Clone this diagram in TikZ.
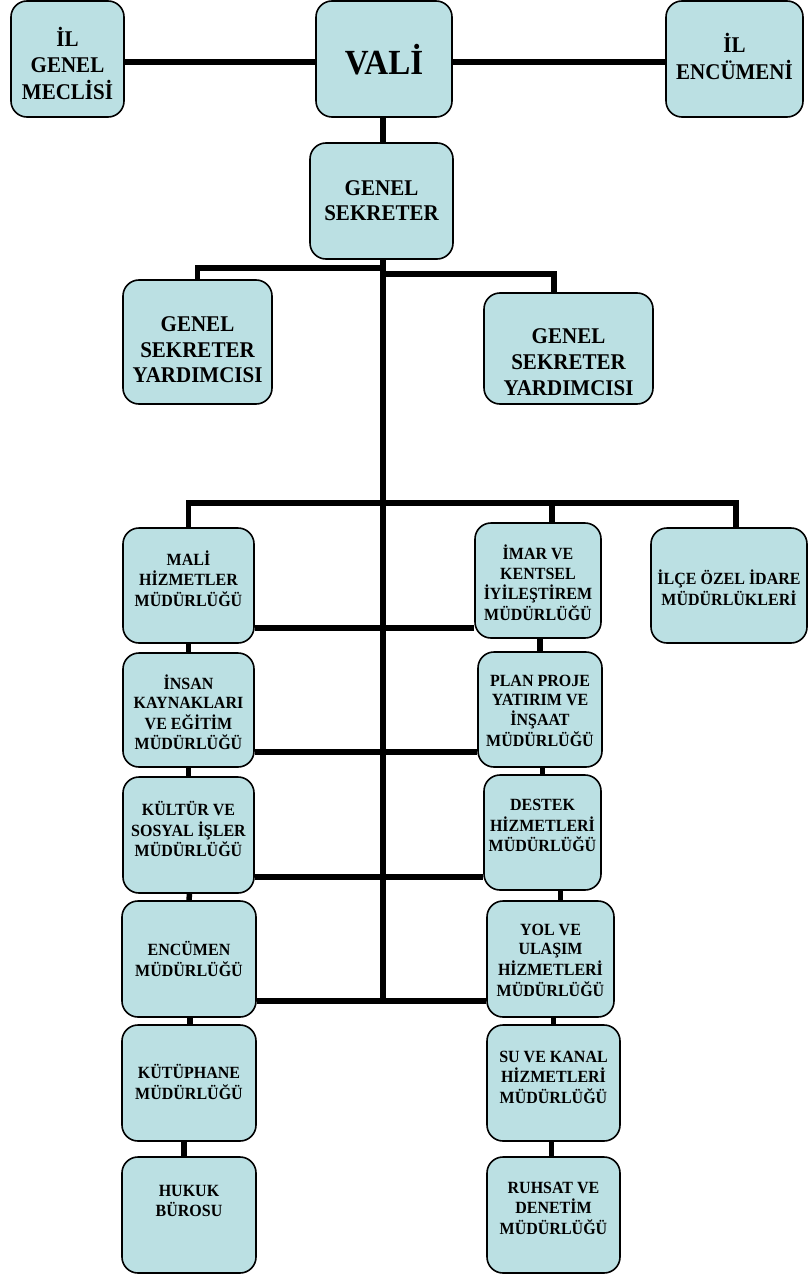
\documentclass[tikz,border=0pt]{standalone}
\usepackage{fontspec}
\usepackage{graphicx}
\setmainfont{Liberation Serif}
\usetikzlibrary{backgrounds}
\definecolor{boxfill}{RGB}{187,224,227}
\newcommand\rs[2]{\raisebox{#1}[\height][\depth]{\scalebox{1}[1.07]{\begin{tabular}{@{}c@{}}#2\end{tabular}}}}
\tikzset{
  box/.style={draw=black, line width=1.6pt, fill=boxfill, rounded corners=16pt,
    inner sep=0pt, font=\bfseries\fontsize{16}{18}\selectfont},
  bigbox/.style={box, font=\bfseries\fontsize{21}{24}\selectfont},
  link/.style={draw=black, line width=5.5pt},
}
\begin{document}
\begin{tikzpicture}[x=1pt,y=-1pt]
\useasboundingbox (0,0) rectangle (809,1276);
% top row
\node[bigbox, minimum width=113pt, minimum height=116pt] (ilg) at (67.5,59) {\rs{-8pt}{İL\\GENEL\\MECLİSİ}};
\node[bigbox, minimum width=136pt, minimum height=116pt, font=\bfseries\fontsize{33}{36}\selectfont] (vali) at (384,59) {\rs{-6pt}{VALİ}};
\node[bigbox, minimum width=137pt, minimum height=116pt] (ile) at (734.5,59) {\rs{-1pt}{İL\\ENCÜMENİ}};
\node[bigbox, minimum width=143pt, minimum height=116pt] (gs) at (381.5,201) {\rs{-2pt}{GENEL\\SEKRETER}};
\node[bigbox, minimum width=149pt, minimum height=124pt] (gsyl) at (197.5,342) {\rs{-10pt}{GENEL\\SEKRETER\\YARDIMCISI}};
\node[bigbox, minimum width=169pt, minimum height=111pt] (gsyr) at (568.5,348.5) {\rs{-16pt}{GENEL\\SEKRETER\\YARDIMCISI}};
% departments
\node[box, minimum width=131pt, minimum height=115pt] (mali) at (188.5,585.5) {\rs{4pt}{MALİ\\HİZMETLER\\MÜDÜRLÜĞÜ}};
\node[box, minimum width=126pt, minimum height=115pt] (imar) at (538,580.5) {\rs{-5pt}{İMAR VE\\KENTSEL\\İYİLEŞTİREM\\MÜDÜRLÜĞÜ}};
\node[box, minimum width=156pt, minimum height=115pt] (ilce) at (729,585.5) {\rs{-5pt}{İLÇE ÖZEL İDARE\\MÜDÜRLÜKLERİ}};
\node[box, minimum width=131pt, minimum height=114pt] (insan) at (188.5,710) {\rs{-5pt}{İNSAN\\KAYNAKLARI\\VE EĞİTİM\\MÜDÜRLÜĞÜ}};
\node[box, minimum width=124pt, minimum height=115pt] (plan) at (540,709.5) {\rs{-3pt}{PLAN PROJE\\YATIRIM VE\\İNŞAAT\\MÜDÜRLÜĞÜ}};
\node[box, minimum width=131pt, minimum height=116pt] (kultur) at (188.5,835) {\rs{3pt}{KÜLTÜR VE\\SOSYAL İŞLER\\MÜDÜRLÜĞÜ}};
\node[box, minimum width=117pt, minimum height=115pt] (destek) at (542.5,832.5) {\rs{5pt}{DESTEK\\HİZMETLERİ\\MÜDÜRLÜĞÜ}};
\node[box, minimum width=134pt, minimum height=116pt] (encumen) at (189,959) {\rs{-3pt}{ENCÜMEN\\MÜDÜRLÜĞÜ}};
\node[box, minimum width=127pt, minimum height=116pt] (yol) at (550.5,959) {\rs{-3pt}{YOL VE\\ULAŞIM\\HİZMETLERİ\\MÜDÜRLÜĞÜ}};
\node[box, minimum width=134pt, minimum height=116pt] (kutup) at (189,1083) {\rs{-2pt}{KÜTÜPHANE\\MÜDÜRLÜĞÜ}};
\node[box, minimum width=133pt, minimum height=116pt] (su) at (553.5,1083) {\rs{4pt}{SU VE KANAL\\HİZMETLERİ\\MÜDÜRLÜĞÜ}};
\node[box, minimum width=134pt, minimum height=116pt] (hukuk) at (189,1215) {\rs{12pt}{HUKUK\\BÜROSU}};
\node[box, minimum width=133pt, minimum height=116pt] (ruhsat) at (553.5,1215) {\rs{5pt}{RUHSAT VE\\DENETİM\\MÜDÜRLÜĞÜ}};
% junction coordinates on the spine
\coordinate (b1) at (383,268);
\coordinate (b2) at (383,274);
\coordinate (b3) at (383,503);
\coordinate (j1) at (383,628);
\coordinate (j2) at (383,752);
\coordinate (j3) at (383,877);
\coordinate (sp) at (383,1001);
\begin{pgfonlayer}{background}
\draw[link] ([yshift=-3pt]ilg.east) -- ([yshift=-3pt]vali.west);
\draw[link] ([yshift=-3pt]vali.east) -- ([yshift=-3pt]ile.west);
\draw[link] (vali.south -| sp) -- (gs.north -| sp);
\draw[link] (gs.south -| sp) -- (sp);
\draw[link] (b1) -| (gsyl.north);
\draw[link] (b2) -| ([xshift=-14.5pt]gsyr.north);
\draw[link] (mali.north) |- (b3) -| ([xshift=7pt]ilce.north);
\draw[link] ([xshift=14pt]imar.north |- b3) -- ([xshift=14pt]imar.north);
\draw[link] (mali.east |- j1) -- (imar.west |- j1);
\draw[link] (insan.east |- j2) -- (plan.west |- j2);
\draw[link] (kultur.east |- j3) -- (destek.west |- j3);
\draw[link] (encumen.east |- sp) -- (yol.west |- sp);
\draw[link] (mali.south) -- (insan.north);
\draw[link] (insan.south) -- (kultur.north);
\draw[link] ([xshift=1pt]kultur.south) -- (encumen.north);
\draw[link] ([xshift=1pt]encumen.south) -- ([xshift=1pt]kutup.north);
\draw[link] ([xshift=-5pt]kutup.south) -- ([xshift=-5pt]hukuk.north);
\draw[link] (imar.south -| plan.north) -- (plan.north);
\draw[link] (plan.south -| destek.north) -- (destek.north);
\draw[link] ([xshift=10pt]yol.north |- destek.south) -- ([xshift=10pt]yol.north);
\draw[link] (su.north |- yol.south) -- (su.north);
\draw[link] ([xshift=-2pt]su.south) -- ([xshift=-2pt]ruhsat.north);
\end{pgfonlayer}
\end{tikzpicture}
\end{document}
